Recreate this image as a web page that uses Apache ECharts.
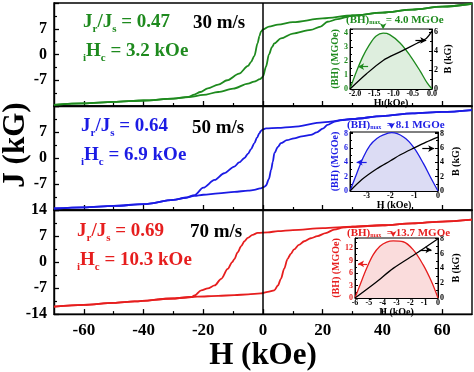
<!DOCTYPE html>
<html><head><meta charset="utf-8">
<script src="https://cdn.jsdelivr.net/npm/echarts@6/dist/echarts.min.js"></script>
<style>html,body{margin:0;padding:0;background:#fff}#c{width:474px;height:372px}</style>
</head><body><div id="c"></div>
<script>
const FONT = '"Liberation Serif","Times New Roman",serif';
const GREEN = '#1e8a1e', BLUE = '#1b1be4', RED = '#e61e1e', BLACK = '#000';

// ---- main axis ticks ----
const hTicks = [-60, -40, -20, 0, 20, 40, 60];
const hMinorTicks = [-50, -30, -10, 10, 30, 50];

// ---- annotations ----
const speeds = ['30 m/s', '50 m/s', '70 m/s'];
const jrRatios = ['0.47', '0.64', '0.69'];
const ihcValues = ['3.2', '6.9', '10.3'];
const bhMaxValues = ['4.0', '8.1', '13.7'];

// ---- 30 m/s loop ----
const h30Down = [70,60,50,40,30,20,10,5,2,0,-0.7,-1.2,-1.8,-2.9,-4,-5,-8,-12,-15,-18.5,-21,-23,-25,-30,-40,-50,-60,-70];
const j30Down = [13.8,13.0,12.2,11.4,10.6,9.8,8.8,8.1,7.6,6.8,6.2,5.0,3.1,-0.4,-2.0,-3.1,-5.2,-7.0,-8.2,-9.2,-10.2,-10.9,-11.5,-12.0,-12.5,-12.9,-13.3,-13.7];
const h30Up = [-70,-60,-50,-40,-30,-25,-20,-15,-10,-5,-3,-1,0,1,2,3,3.8,6,10,16,19.3,21.6,25,28,30,40,50,60,70];
const j30Up = [-13.7,-13.3,-12.9,-12.5,-12.0,-11.6,-11.0,-10.2,-9.3,-7.9,-7.4,-6.7,-6.0,-3.3,0,2.0,3.0,4.4,5.7,6.7,7.6,8.9,9.6,10.2,10.6,11.4,12.2,13.0,13.8];

// ---- 50 m/s loop ----
const h50Down = [70,60,50,40,30,20,10,5,1,0,-0.7,-1.2,-2,-2.9,-4,-5,-6.2,-8,-9.6,-13,-16.2,-20,-22.9,-26,-30,-40,-50,-60,-70];
const j50Down = [12.9,12.4,12.0,11.3,10.5,9.6,8.4,8.1,8.0,7.7,7.3,6.7,5.5,4.0,2.4,1.2,0,-1.2,-2.3,-4.1,-5.9,-8.0,-10.0,-10.7,-11.3,-12.4,-12.9,-13.3,-13.6];
const h50Up = [-70,-60,-50,-40,-30,-26,-23,-20,-15,-9.6,-5,-2.9,-1,0.4,1,2,2.7,3.3,3.8,5,6,8,10.4,13,16,18,20,21.6,24,26,30,40,50,60,70];
const j50Up = [-13.6,-13.3,-12.9,-12.4,-11.3,-10.7,-10.2,-9.9,-9.5,-9.1,-8.8,-8.6,-8.2,-7.8,-7.4,-5.6,-3.2,-1.0,1.3,3.0,4.0,4.8,5.3,5.8,6.2,6.9,7.9,8.9,9.8,10.2,10.5,11.3,12.0,12.4,12.9];

// ---- 70 m/s loop ----
const h70Down = [70,60,50,40,30,20,10,5,1.6,-1.8,-3.5,-5.1,-6.2,-7.3,-8.5,-9.6,-10.3,-11.8,-14,-16.2,-18.5,-20.7,-22.9,-24,-30,-43,-50,-60,-70];
const j70Down = [11.4,10.9,10.4,9.9,9.5,9.1,8.6,8.3,8.0,7.85,7.3,6.5,5.6,4.3,2.6,0.8,0,-1.85,-4.5,-6.3,-7.1,-7.6,-9.0,-9.4,-9.8,-10.6,-11.0,-11.5,-12.0];
const h70Up = [-70,-60,-50,-43,-30,-24,-22,-15,-9.6,-5,-0.7,1.6,3.8,5,6,7.1,8.2,9.3,10.4,12,13.8,16,18.2,21,23.8,27,30,40,50,60,70];
const j70Up = [-12.0,-11.5,-11.0,-10.6,-9.8,-9.4,-9.3,-9.1,-8.9,-8.7,-8.45,-8.0,-7.6,-6.3,-4.5,-1.8,0.8,2.2,3.4,4.6,5.6,6.4,6.95,7.8,8.7,9.3,9.5,9.9,10.4,10.9,11.4];

// ---- insets: (BH) vs H and B vs H ----
const bhH30 = [-2.13,-1.97,-1.8,-1.62,-1.45,-1.27,-1.1,-0.83,-0.57,-0.31,-0.13,0];
const bh30  = [0,1.2,2.3,3.2,3.8,4.0,3.9,3.3,2.4,1.3,0.45,0];
const bH30  = [-2.13,-1.7,-1.27,-0.83,-0.39,-0.15,0];
const b30   = [0,1.6,3.0,3.9,4.8,5.3,6.1];

const bhH50 = [-3.7,-3.42,-3.14,-2.86,-2.57,-2.3,-1.95,-1.45,-1.03,-0.61,-0.32,0];
const bh50  = [0,2.4,4.7,6.35,7.3,7.8,8.1,7.5,6.1,3.8,1.95,0];
const bH50  = [-3.7,-3.2,-2.57,-2.0,-1.6,-1.0,-0.5,0];
const b50   = [0,1.6,3.1,4.2,5.0,6.0,6.8,7.5];

const bhH70 = [-6,-5.63,-5.15,-4.68,-4.2,-3.71,-3.24,-2.52,-1.8,-1.08,-0.48,0];
const bh70  = [0,3.2,7.2,10.4,12.4,13.4,13.7,13.5,11.6,8.0,4.0,0];
const bH70  = [-6,-4.5,-3.24,-1.5,0];
const b70   = [0,2.1,4.0,6.1,8.0];

const zip = (a, b) => a.map((v, i) => [v, b[i]]);

const chart = echarts.init(document.getElementById('c'), null, {renderer: 'canvas'});

const colors = [GREEN, BLUE, RED];
const mainGrids = [
  {left: 54, top: 3, width: 418, height: 103},
  {left: 54, top: 106, width: 418, height: 104},
  {left: 54, top: 210, width: 418, height: 106}
];
const insetGrids = [
  {left: 350, top: 29, width: 82, height: 60},
  {left: 350, top: 132, width: 88, height: 59},
  {left: 355, top: 238, width: 83, height: 60}
];
const grids = mainGrids.concat(insetGrids).map(g => Object.assign({show: true, borderColor: BLACK, borderWidth: 1.4, backgroundColor: 'transparent', containLabel: false}, g));
grids[3].borderWidth = grids[4].borderWidth = grids[5].borderWidth = 1;

const lbl = (size, color) => ({fontFamily: FONT, fontWeight: 'bold', fontSize: size, color: color || BLACK});
const onStep = step => v => (Math.abs(v / step - Math.round(v / step)) < 1e-6 ? String(v) : '');

const xAxes = [];
const yAxes = [];
// main x axes (0..2)
for (let i = 0; i < 3; i++) {
  xAxes.push({
    gridIndex: i, type: 'value', min: -70, max: 70,
    axisLine: {show: true, onZero: false, lineStyle: {color: BLACK, width: 1.4}},
    axisTick: {show: true, inside: true, length: 5, customValues: hTicks, lineStyle: {color: BLACK, width: 1.3}},
    axisLabel: Object.assign({show: i === 2, margin: 8, customValues: hTicks}, lbl(17)),
    splitLine: {show: false},
    name: i === 2 ? 'H (kOe)' : '',
    nameLocation: 'middle', nameGap: 24,
    nameTextStyle: {fontFamily: FONT, fontWeight: 'bold', fontSize: 31, color: BLACK}
  });
}
// minor x ticks (3..5)
for (let i = 0; i < 3; i++) {
  xAxes.push({
    gridIndex: i, type: 'value', min: -70, max: 70, position: 'bottom',
    axisLine: {show: false, onZero: false},
    axisTick: {show: true, inside: true, length: 3, customValues: hMinorTicks, lineStyle: {color: BLACK, width: 1.2}},
    axisLabel: {show: false}, splitLine: {show: false}
  });
}
// inset x axes (6..8)
const insetX = [
  {min: -2.13, max: 0, ticks: [-2, -1.5, -1, -0.5, 0], fmt: v => v.toFixed(1)},
  {min: -3.7, max: 0, ticks: [-3, -2, -1, 0], fmt: v => String(v)},
  {min: -6, max: 0, ticks: [-6, -5, -4, -3, -2, -1, 0], fmt: v => String(v)}
];
insetX.forEach((c, k) => {
  xAxes.push({
    gridIndex: 3 + k, type: 'value', min: c.min, max: c.max,
    axisLine: {show: true, onZero: false, lineStyle: {color: BLACK, width: 1}},
    axisTick: {show: true, inside: true, length: 3, customValues: c.ticks, lineStyle: {color: BLACK}},
    axisLabel: Object.assign({margin: 1, customValues: c.ticks, formatter: c.fmt}, lbl(8)),
    splitLine: {show: false},
    name: 'H (kOe)', nameLocation: 'middle', nameGap: 7,
    nameTextStyle: {fontFamily: FONT, fontWeight: 'bold', fontSize: 10, color: BLACK}
  });
});
// main y axes (0..2)
const yFmt = [
  v => (v === 14 || v === -14) ? '' : String(v),
  v => v === 14 ? '' : (v === -14 ? '14' : String(v)),
  v => v === 14 ? '' : String(v)
];
for (let i = 0; i < 3; i++) {
  yAxes.push({
    gridIndex: i, type: 'value', min: -14, max: 14, interval: 7,
    axisLine: {show: true, onZero: false, lineStyle: {color: BLACK, width: 1.4}},
    axisTick: {show: true, inside: true, length: 5, lineStyle: {color: BLACK, width: 1.3}},
    minorTick: {show: true, splitNumber: 2, length: 3, lineStyle: {color: BLACK, width: 1.2}},
    axisLabel: Object.assign({margin: 7, formatter: yFmt[i]}, lbl(16)),
    splitLine: {show: false}
  });
}
// inset left y (3..5) and right y (6..8)
const insetL = [{max: 4.3, interval: 1}, {max: 8.2, interval: 2}, {max: 14.4, interval: 3}];
const insetR = [{max: 6.3, interval: 2}, {max: 8.2, interval: 2}, {max: 8.1, interval: 2}];
insetL.forEach((c, k) => {
  yAxes.push({
    gridIndex: 3 + k, type: 'value', min: 0, max: c.max, interval: c.interval, position: 'left',
    axisLine: {show: true, onZero: false, lineStyle: {color: BLACK, width: 1}},
    axisTick: {show: true, inside: true, length: 3, lineStyle: {color: BLACK}},
    minorTick: {show: true, splitNumber: 2, length: 2, lineStyle: {color: BLACK}},
    axisLabel: Object.assign({margin: 2, formatter: onStep(c.interval)}, lbl(8, colors[k])),
    splitLine: {show: false},
    name: '(BH) (MGOe)', nameLocation: 'middle', nameRotate: 90, nameGap: k === 2 ? 10 : 7,
    nameTextStyle: {fontFamily: FONT, fontWeight: 'bold', fontSize: 10, color: colors[k]}
  });
});
insetR.forEach((c, k) => {
  yAxes.push({
    gridIndex: 3 + k, type: 'value', min: 0, max: c.max, interval: c.interval, position: 'right',
    axisLine: {show: true, onZero: false, lineStyle: {color: BLACK, width: 1}},
    axisTick: {show: true, inside: true, length: 3, lineStyle: {color: BLACK}},
    minorTick: {show: true, splitNumber: 2, length: 2, lineStyle: {color: BLACK}},
    axisLabel: Object.assign({margin: 2, formatter: onStep(c.interval)}, lbl(8)),
    splitLine: {show: false},
    name: 'B (kG)', nameLocation: 'middle', nameRotate: 90, nameGap: k === 0 ? 11 : 13,
    nameTextStyle: {fontFamily: FONT, fontWeight: 'bold', fontSize: 10, color: BLACK}
  });
});

const loops = [
  [zip(h30Down, j30Down), zip(h30Up, j30Up)],
  [zip(h50Down, j50Down), zip(h50Up, j50Up)],
  [zip(h70Down, j70Down), zip(h70Up, j70Up)]
];
const series = [];
loops.forEach((pair, i) => {
  pair.forEach((d, j) => {
    const s = {
      type: 'line', xAxisIndex: i, yAxisIndex: i, data: d,
      smooth: 0.3, smoothMonotone: 'x', showSymbol: false, symbol: 'none',
      lineStyle: {color: colors[i], width: 1.8}, z: 3, silent: true
    };
    if (j === 0) {
      s.markLine = {
        silent: true, symbol: 'none', label: {show: false},
        lineStyle: {color: BLACK, width: 1.5, type: 'solid'},
        data: [{xAxis: 0}]
      };
    }
    series.push(s);
  });
});

const fills = ['#deeede', '#dcdcf4', '#fadcdc'];
const bhSets = [zip(bhH30, bh30), zip(bhH50, bh50), zip(bhH70, bh70)];
const bSets = [zip(bH30, b30), zip(bH50, b50), zip(bH70, b70)];
// arrow annotations [H1, H2, value]
const bhArrows = [[-1.92, -1.66, 1.6], [-3.42, -3.0, 4.0], [-5.78, -5.13, 8.2]];
const bArrows = [[-0.43, -0.15, 5.1], [-0.66, -0.16, 5.9], [-1.32, -0.47, 6.5]];
bhSets.forEach((d, k) => {
  let peak = d[0];
  d.forEach(p => { if (p[1] > peak[1]) peak = p; });
  series.push({
    type: 'line', xAxisIndex: 6 + k, yAxisIndex: 3 + k, data: d,
    smooth: 0.35, showSymbol: false, symbol: 'none', silent: true,
    lineStyle: {color: colors[k], width: 1.3},
    areaStyle: {color: fills[k], opacity: 1},
    markLine: {
      silent: true, symbol: ['arrow', 'none'], symbolSize: [5, 6], label: {show: false},
      lineStyle: {color: colors[k], width: 1.2, type: 'solid'},
      data: [[{coord: [bhArrows[k][0], bhArrows[k][2]]}, {coord: [bhArrows[k][1], bhArrows[k][2]]}]]
    },
    markPoint: {
      silent: true, symbol: 'arrow', symbolRotate: 180, symbolSize: [5, 6], symbolOffset: [0, -4],
      label: {show: false}, itemStyle: {color: colors[k]},
      data: [{coord: peak}]
    }
  });
  series.push({
    type: 'line', xAxisIndex: 6 + k, yAxisIndex: 6 + k, data: bSets[k],
    smooth: 0.3, showSymbol: false, symbol: 'none', silent: true,
    lineStyle: {color: BLACK, width: 1.3},
    markLine: {
      silent: true, symbol: ['none', 'arrow'], symbolSize: [5, 6], label: {show: false},
      lineStyle: {color: BLACK, width: 1.2, type: 'solid'},
      data: [[{coord: [bArrows[k][0], bArrows[k][2]]}, {coord: [bArrows[k][1], bArrows[k][2]]}]]
    }
  });
});

// ---- text graphics ----
function richStyle(color, big, small, sub) {
  return {
    b: {fontFamily: FONT, fontWeight: 'bold', fontSize: big, fill: color, lineHeight: big + 3},
    s: {fontFamily: FONT, fontWeight: 'bold', fontSize: small, fill: color, lineHeight: small, padding: [sub, 0, 0, 0]}
  };
}
const jrPos = [[83, 22], [81, 126], [77, 231]];
const hcPos = [[83, 51], [81, 155], [77, 260]];
const spPos = [[193, 23], [192, 128], [190, 232]];
const titlePos = [[346, 20], [347, 125], [347, 233]];
const graphic = [];
for (let i = 0; i < 3; i++) {
  graphic.push({
    type: 'text', x: jrPos[i][0], y: jrPos[i][1], z: 10, silent: true,
    style: {text: '{b|J}{s|r}{b|/J}{s|s}{b| = ' + jrRatios[i] + '}', textVerticalAlign: 'middle', textAlign: 'left', rich: richStyle(colors[i], 19, 11, 15)}
  });
  graphic.push({
    type: 'text', x: hcPos[i][0], y: hcPos[i][1], z: 10, silent: true,
    style: {text: '{s|i}{b|H}{s|c}{b| = ' + ihcValues[i] + ' kOe}', textVerticalAlign: 'middle', textAlign: 'left', rich: richStyle(colors[i], 19, 11, 15)}
  });
  graphic.push({
    type: 'text', x: spPos[i][0], y: spPos[i][1], z: 10, silent: true,
    style: {text: speeds[i], fill: BLACK, font: 'bold 19px ' + FONT, textVerticalAlign: 'middle', textAlign: 'left'}
  });
  graphic.push({
    type: 'text', x: titlePos[i][0], y: titlePos[i][1], z: 10, silent: true,
    style: {text: '{b|(BH)}{s|max}{b|  = ' + bhMaxValues[i] + ' MGOe}', textVerticalAlign: 'middle', textAlign: 'left', rich: richStyle(colors[i], 11, 6, 5)}
  });
}
graphic.push({
  type: 'text', x: 16, y: 145, rotation: Math.PI / 2, z: 10, silent: true,
  style: {text: 'J (kG)', fill: BLACK, font: 'bold 31px ' + FONT, textAlign: 'center', textVerticalAlign: 'middle'}
});

chart.setOption({
  animation: false,
  backgroundColor: '#fff',
  grid: grids,
  xAxis: xAxes,
  yAxis: yAxes,
  series: series,
  graphic: graphic
});
</script>
</body></html>
